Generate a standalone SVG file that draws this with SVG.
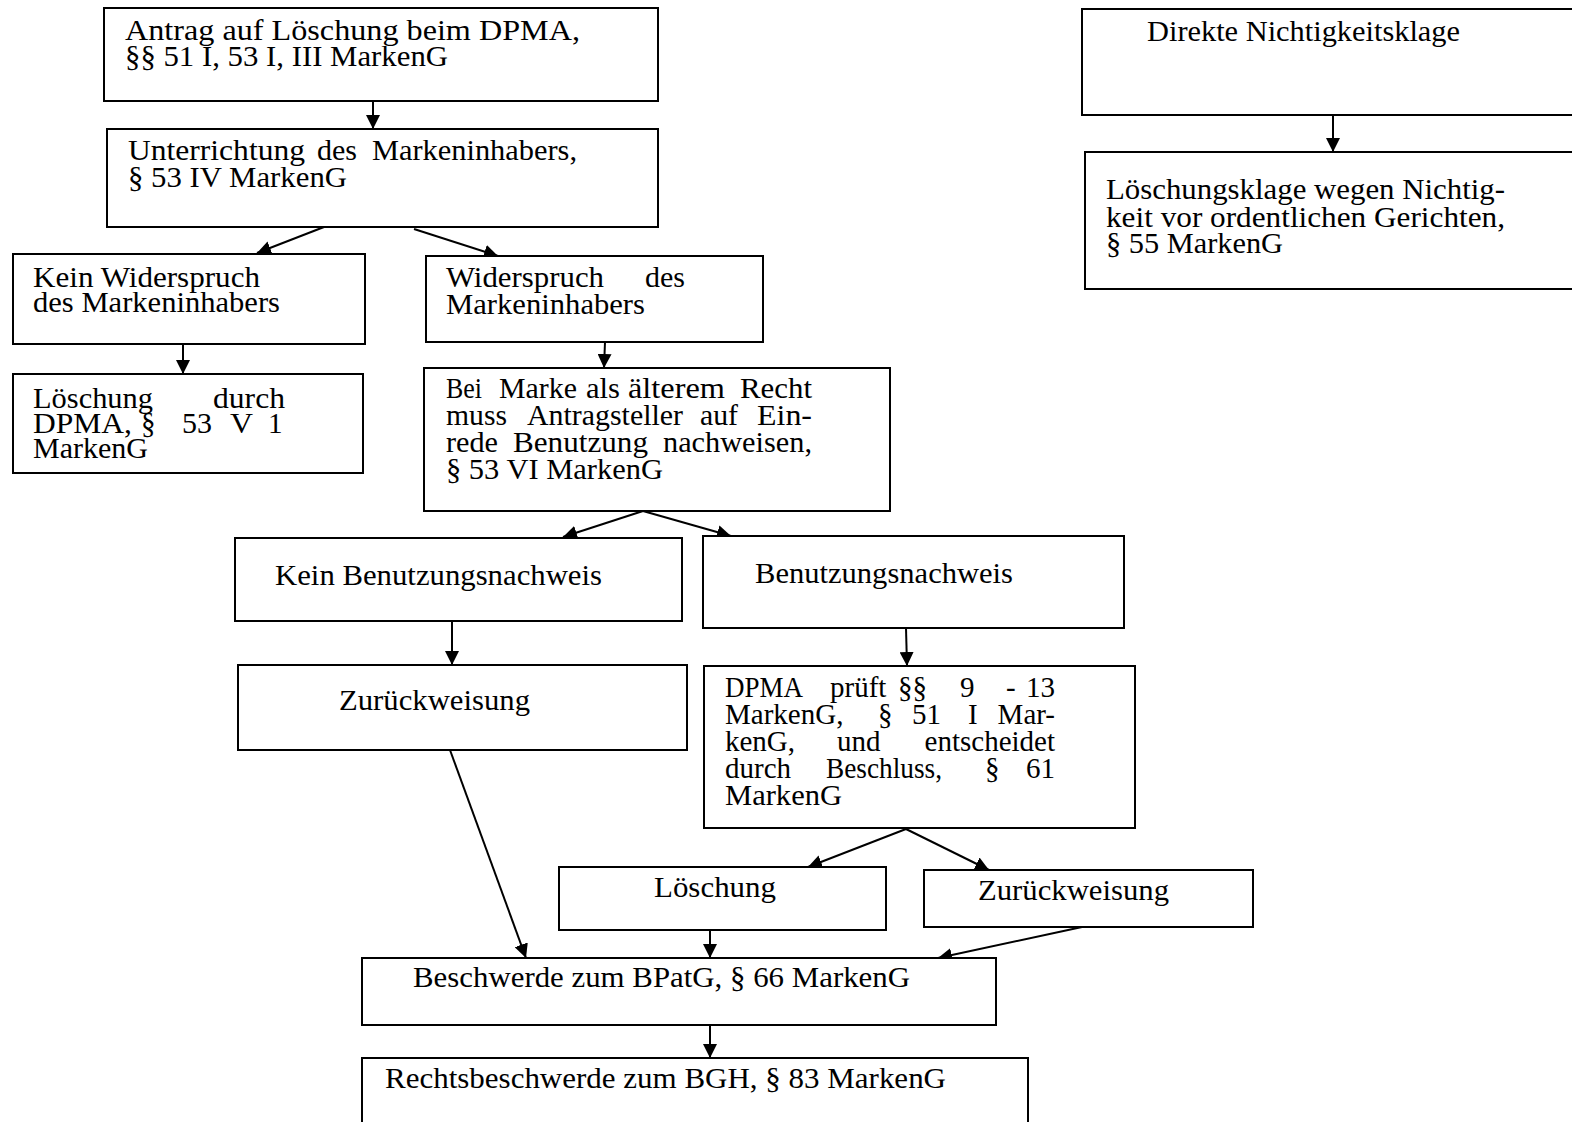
<svg xmlns="http://www.w3.org/2000/svg" width="1572" height="1122" viewBox="0 0 1572 1122">
  <style>
    .box { fill: #fff; stroke: #000; stroke-width: 2; }
    .t { font-family: "Liberation Serif", "DejaVu Serif", serif; font-size: 29px; fill: #000; }
    .e { text-anchor: end; }
    .c { stroke: #000; stroke-width: 2; fill: none; marker-end: url(#ah); }
  </style>
  <defs>
    <marker id="ah" markerUnits="userSpaceOnUse" markerWidth="14" markerHeight="14" viewBox="0 0 14 14" refX="14" refY="7" orient="auto">
      <path d="M0,0 L14,7 L0,14 z" fill="#000"/>
    </marker>
  </defs>
  <rect width="1572" height="1122" fill="#fff"/>

  <g id="connectors">
    <line class="c" x1="373" y1="101" x2="373" y2="129"/>
    <line class="c" x1="324" y1="227" x2="257" y2="253"/>
    <line class="c" x1="414" y1="229" x2="498" y2="256"/>
    <line class="c" x1="183" y1="344" x2="183" y2="374"/>
    <line class="c" x1="605" y1="342" x2="604" y2="368"/>
    <line class="c" x1="643" y1="511" x2="563" y2="537"/>
    <line class="c" x1="643" y1="511" x2="731" y2="536"/>
    <line class="c" x1="452" y1="621" x2="452" y2="665"/>
    <line class="c" x1="906" y1="628" x2="907" y2="666"/>
    <line class="c" x1="906" y1="829" x2="808" y2="867"/>
    <line class="c" x1="906" y1="829" x2="989" y2="870"/>
    <line class="c" x1="450" y1="750" x2="526" y2="958"/>
    <line class="c" x1="710" y1="930" x2="710" y2="958"/>
    <line class="c" x1="1082" y1="927" x2="938" y2="958"/>
    <line class="c" x1="710" y1="1025" x2="710" y2="1058"/>
    <line class="c" x1="1333" y1="115" x2="1333" y2="152"/>
  </g>

  <g id="antrag">
    <rect class="box" x="104" y="8" width="554" height="93"/>
    <text class="t" x="125" y="40" textLength="455" lengthAdjust="spacingAndGlyphs">Antrag auf Löschung beim DPMA,</text>
    <text class="t" x="125" y="66" textLength="323" lengthAdjust="spacingAndGlyphs">§§ 51 I, 53 I, III MarkenG</text>
  </g>

  <g id="unterrichtung">
    <rect class="box" x="107" y="129" width="551" height="98"/>
    <text class="t" x="128" y="160" textLength="177" lengthAdjust="spacingAndGlyphs">Unterrichtung</text>
    <text class="t" x="317" y="160" textLength="40" lengthAdjust="spacingAndGlyphs">des</text>
    <text class="t" x="372" y="160" textLength="205" lengthAdjust="spacingAndGlyphs">Markeninhabers,</text>
    <text class="t" x="128" y="187" textLength="219" lengthAdjust="spacingAndGlyphs">§ 53 IV MarkenG</text>
  </g>

  <g id="kein-widerspruch">
    <rect class="box" x="13" y="254" width="352" height="90"/>
    <text class="t" x="33" y="287" textLength="227" lengthAdjust="spacingAndGlyphs">Kein Widerspruch</text>
    <text class="t" x="33" y="312" textLength="247" lengthAdjust="spacingAndGlyphs">des Markeninhabers</text>
  </g>

  <g id="widerspruch">
    <rect class="box" x="426" y="256" width="337" height="86"/>
    <text class="t" x="446" y="287" textLength="158" lengthAdjust="spacingAndGlyphs">Widerspruch</text>
    <text class="t" x="645" y="287" textLength="40" lengthAdjust="spacingAndGlyphs">des</text>
    <text class="t" x="446" y="314" textLength="199" lengthAdjust="spacingAndGlyphs">Markeninhabers</text>
  </g>

  <g id="loeschung-dpma">
    <rect class="box" x="13" y="374" width="350" height="99"/>
    <text class="t" x="33" y="408" textLength="120" lengthAdjust="spacingAndGlyphs">Löschung</text>
    <text class="t" x="213" y="408" textLength="72" lengthAdjust="spacingAndGlyphs">durch</text>
    <text class="t" x="33" y="433" textLength="99" lengthAdjust="spacingAndGlyphs">DPMA,</text>
    <text class="t" x="141" y="433">§</text>
    <text class="t" x="182" y="433" textLength="30" lengthAdjust="spacingAndGlyphs">53</text>
    <text class="t" x="230" y="433" textLength="23" lengthAdjust="spacingAndGlyphs">V</text>
    <text class="t" x="268" y="433">1</text>
    <text class="t" x="33" y="458" textLength="115" lengthAdjust="spacingAndGlyphs">MarkenG</text>
  </g>

  <g id="benutzung-einrede">
    <rect class="box" x="424" y="368" width="466" height="143"/>
    <text class="t" x="446" y="398" textLength="36" lengthAdjust="spacingAndGlyphs">Bei</text>
    <text class="t" x="499" y="398" textLength="78" lengthAdjust="spacingAndGlyphs">Marke</text>
    <text class="t" x="586" y="398" textLength="34" lengthAdjust="spacingAndGlyphs">als</text>
    <text class="t" x="628" y="398" textLength="97" lengthAdjust="spacingAndGlyphs">älterem</text>
    <text class="t" x="740" y="398" textLength="72" lengthAdjust="spacingAndGlyphs">Recht</text>
    <text class="t" x="446" y="425" textLength="61" lengthAdjust="spacingAndGlyphs">muss</text>
    <text class="t" x="527" y="425" textLength="156" lengthAdjust="spacingAndGlyphs">Antragsteller</text>
    <text class="t" x="700" y="425" textLength="38" lengthAdjust="spacingAndGlyphs">auf</text>
    <text class="t" x="757" y="425" textLength="55" lengthAdjust="spacingAndGlyphs">Ein-</text>
    <text class="t" x="446" y="452" textLength="52" lengthAdjust="spacingAndGlyphs">rede</text>
    <text class="t" x="513" y="452" textLength="135" lengthAdjust="spacingAndGlyphs">Benutzung</text>
    <text class="t" x="663" y="452" textLength="149" lengthAdjust="spacingAndGlyphs">nachweisen,</text>
    <text class="t" x="446" y="479" textLength="217" lengthAdjust="spacingAndGlyphs">§ 53 VI MarkenG</text>
  </g>

  <g id="kein-benutzungsnachweis">
    <rect class="box" x="235" y="538" width="447" height="83"/>
    <text class="t" x="275" y="585" textLength="327" lengthAdjust="spacingAndGlyphs">Kein Benutzungsnachweis</text>
  </g>

  <g id="benutzungsnachweis">
    <rect class="box" x="703" y="536" width="421" height="92"/>
    <text class="t" x="755" y="583" textLength="258" lengthAdjust="spacingAndGlyphs">Benutzungsnachweis</text>
  </g>

  <g id="zurueckweisung-1">
    <rect class="box" x="238" y="665" width="449" height="85"/>
    <text class="t" x="339" y="710" textLength="191" lengthAdjust="spacingAndGlyphs">Zurückweisung</text>
  </g>

  <g id="dpma-prueft">
    <rect class="box" x="704" y="666" width="431" height="162"/>
    <text class="t" x="725" y="697" textLength="78" lengthAdjust="spacingAndGlyphs">DPMA</text>
    <text class="t" x="830" y="697">prüft</text>
    <text class="t" x="898" y="697">§§</text>
    <text class="t" x="960" y="697">9</text>
    <text class="t" x="1006" y="697">-</text>
    <text class="t e" x="1055" y="697">13</text>
    <text class="t" x="725" y="724">MarkenG,</text>
    <text class="t" x="878" y="724">§</text>
    <text class="t" x="912" y="724">51</text>
    <text class="t" x="968" y="724">I</text>
    <text class="t e" x="1055" y="724">Mar-</text>
    <text class="t" x="725" y="751">kenG,</text>
    <text class="t" x="837" y="751">und</text>
    <text class="t e" x="1055" y="751">entscheidet</text>
    <text class="t" x="725" y="778">durch</text>
    <text class="t" x="826" y="778" textLength="116" lengthAdjust="spacingAndGlyphs">Beschluss,</text>
    <text class="t" x="985" y="778">§</text>
    <text class="t e" x="1055" y="778">61</text>
    <text class="t" x="725" y="805" textLength="117" lengthAdjust="spacingAndGlyphs">MarkenG</text>
  </g>

  <g id="loeschung">
    <rect class="box" x="559" y="867" width="327" height="63"/>
    <text class="t" x="654" y="897" textLength="122" lengthAdjust="spacingAndGlyphs">Löschung</text>
  </g>

  <g id="zurueckweisung-2">
    <rect class="box" x="924" y="870" width="329" height="57"/>
    <text class="t" x="978" y="900" textLength="191" lengthAdjust="spacingAndGlyphs">Zurückweisung</text>
  </g>

  <g id="beschwerde">
    <rect class="box" x="362" y="958" width="634" height="67"/>
    <text class="t" x="413" y="987" textLength="497" lengthAdjust="spacingAndGlyphs">Beschwerde zum BPatG, § 66 MarkenG</text>
  </g>

  <g id="rechtsbeschwerde">
    <rect class="box" x="362" y="1058" width="666" height="80"/>
    <text class="t" x="385" y="1088" textLength="561" lengthAdjust="spacingAndGlyphs">Rechtsbeschwerde zum BGH, § 83 MarkenG</text>
  </g>

  <g id="nichtigkeitsklage">
    <rect class="box" x="1082" y="9" width="500" height="106"/>
    <text class="t" x="1147" y="41" textLength="313" lengthAdjust="spacingAndGlyphs">Direkte Nichtigkeitsklage</text>
  </g>

  <g id="loeschungsklage">
    <rect class="box" x="1085" y="152" width="497" height="137"/>
    <text class="t" x="1106" y="199" textLength="399" lengthAdjust="spacingAndGlyphs">Löschungsklage wegen Nichtig-</text>
    <text class="t" x="1106" y="227" textLength="399" lengthAdjust="spacingAndGlyphs">keit vor ordentlichen Gerichten,</text>
    <text class="t" x="1106" y="253" textLength="177" lengthAdjust="spacingAndGlyphs">§ 55 MarkenG</text>
  </g>
</svg>
